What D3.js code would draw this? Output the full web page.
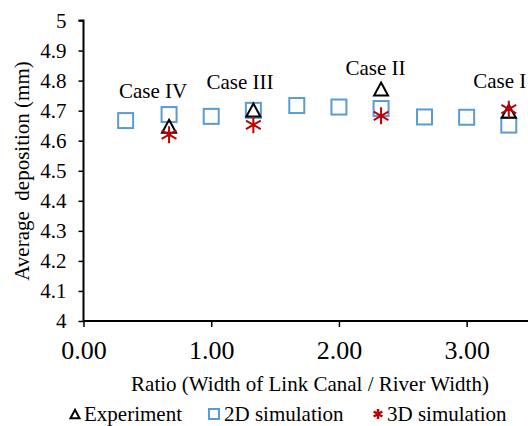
<!DOCTYPE html>
<meta charset="utf-8">
<title>Average deposition</title>
<style>
html, body { margin: 0; padding: 0; background: #fff; overflow: hidden; }
</style>
<svg width="528" height="426"></svg>
<script src="https://cdn.jsdelivr.net/npm/d3@7"></script>
<script>

// ratio of link canal width to river width
var ratio2D = [0.33, 0.67, 1.00, 1.33, 1.67, 2.00, 2.33, 2.67, 3.00, 3.33];
var depth2D = [4.667, 4.687, 4.681, 4.701, 4.717, 4.712, 4.707, 4.679, 4.678, 4.652];

var caseRatio = [0.67, 1.33, 2.33, 3.33];
var caseNames = ["Case IV", "Case III", "Case II", "Case I"];
var experiment = [4.648, 4.702, 4.772, 4.698];
var sim3D = [4.620, 4.653, 4.683, 4.705];
// where the case labels sit (data units)
var labelX = [0.545, 1.226, 2.286, 3.26];
var labelY = [4.743, 4.773, 4.820, 4.777];

var yTicks = [4, 4.1, 4.2, 4.3, 4.4, 4.5, 4.6, 4.7, 4.8, 4.9, 5];
var xTicks = [0, 1, 2, 3];

var font = "'Liberation Serif', 'Times New Roman', serif";

var svg = d3.select("svg").style("font-family", font);

var x = d3.scaleLinear().domain([0, 3.5]).range([83.5, 530.5]);
var y = d3.scaleLinear().domain([4, 5]).range([321, 20.5]);

var blue = "#5b9bd5", red = "#c00000";

// y axis
var yAxis = svg.append("g")
    .attr("transform", "translate(" + x(0) + ",0)")
    .call(d3.axisLeft(y).tickValues(yTicks).tickSize(5).tickPadding(12)
      .tickFormat(function(d) { return d3.format("")(+d.toFixed(1)); }));
yAxis.attr("font-family", null).attr("font-size", null);
yAxis.select(".domain").attr("stroke-width", 2).attr("d", "M-5," + y(5) + "H0V" + y(4));
yAxis.selectAll(".tick line").attr("stroke-width", 1.5);
yAxis.selectAll("text").style("font-family", font).style("font-size", "21px").attr("fill", "#000");

// x axis
var xAxis = svg.append("g")
    .attr("transform", "translate(0," + y(4) + ")")
    .call(d3.axisBottom(x).tickValues(xTicks).tickSize(6).tickPadding(14)
      .tickFormat(d3.format(".2f")));
xAxis.attr("font-family", null).attr("font-size", null);
xAxis.select(".domain").attr("stroke-width", 2).attr("d", "M" + x(0) + ",0H" + x(3.5));
xAxis.selectAll(".tick line").attr("stroke-width", 1.5);
xAxis.selectAll("text").style("font-family", font).style("font-size", "26px").attr("fill", "#000");

// axis titles
svg.append("text")
    .attr("x", 310).attr("y", 391)
    .attr("text-anchor", "middle")
    .style("font-family", font)
    .style("font-size", "21px")
    .text("Ratio (Width of Link Canal / River Width)");

svg.append("text")
    .attr("transform", "translate(28.5,171) rotate(-90)")
    .attr("text-anchor", "middle")
    .style("font-family", font)
    .style("font-size", "21px")
    .style("white-space", "pre")
    .text("Average  deposition (mm)");

// marker shapes
function tri(s) {
  var h = s * 0.93;
  return "M0," + (-h / 2) + "L" + (s / 2) + "," + (h / 2) + "L" + (-s / 2) + "," + (h / 2) + "Z";
}
function star(s) {
  var r = s / 2, d = r * 0.87;
  return "M0," + (-r) + "V" + r +
    "M" + (-d) + "," + (-r / 2) + "L" + d + "," + (r / 2) +
    "M" + (-d) + "," + (r / 2) + "L" + d + "," + (-r / 2);
}

var plot = svg.append("g");

plot.selectAll(".sq")
  .data(ratio2D)
  .enter().append("rect")
    .attr("class", "sq")
    .attr("x", function(d) { return x(d) - 7.5; })
    .attr("y", function(d, i) { return y(depth2D[i]) - 7.5; })
    .attr("width", 15).attr("height", 15)
    .attr("fill", "none").attr("stroke", blue).attr("stroke-width", 2);

plot.selectAll(".tri")
  .data(caseRatio)
  .enter().append("path")
    .attr("class", "tri")
    .attr("transform", function(d, i) { return "translate(" + x(d) + "," + y(experiment[i]) + ")"; })
    .attr("d", tri(14))
    .attr("fill", "none").attr("stroke", "#000").attr("stroke-width", 2);

plot.selectAll(".star")
  .data(caseRatio)
  .enter().append("path")
    .attr("class", "star")
    .attr("transform", function(d, i) { return "translate(" + x(d) + "," + y(sim3D[i]) + ")"; })
    .attr("d", star(17))
    .attr("fill", "none").attr("stroke", red).attr("stroke-width", 2);

plot.selectAll(".case")
  .data(caseNames)
  .enter().append("text")
    .attr("class", "case")
    .attr("x", function(d, i) { return x(labelX[i]); })
    .attr("y", function(d, i) { return y(labelY[i]); })
    .attr("text-anchor", "middle")
    .style("font-family", font)
    .style("font-size", "21px")
    .text(function(d) { return d; });

// legend
var legend = svg.append("g");
var ly = 421;

legend.append("path")
    .attr("transform", "translate(75," + (ly - 7) + ")")
    .attr("d", tri(9))
    .attr("fill", "none").attr("stroke", "#000").attr("stroke-width", 2);
legend.append("text").attr("x", 84).attr("y", ly)
    .style("font-family", font).style("font-size", "21px").text("Experiment");

legend.append("rect")
    .attr("x", 209).attr("y", ly - 12).attr("width", 10).attr("height", 10)
    .attr("fill", "none").attr("stroke", blue).attr("stroke-width", 2);
legend.append("text").attr("x", 224).attr("y", ly)
    .style("font-family", font).style("font-size", "21px").text("2D simulation");

legend.append("path")
    .attr("transform", "translate(378," + (ly - 7) + ")")
    .attr("d", star(10))
    .attr("fill", "none").attr("stroke", red).attr("stroke-width", 2.5);
legend.append("text").attr("x", 387).attr("y", ly)
    .style("font-family", font).style("font-size", "21px").text("3D simulation");

</script>
